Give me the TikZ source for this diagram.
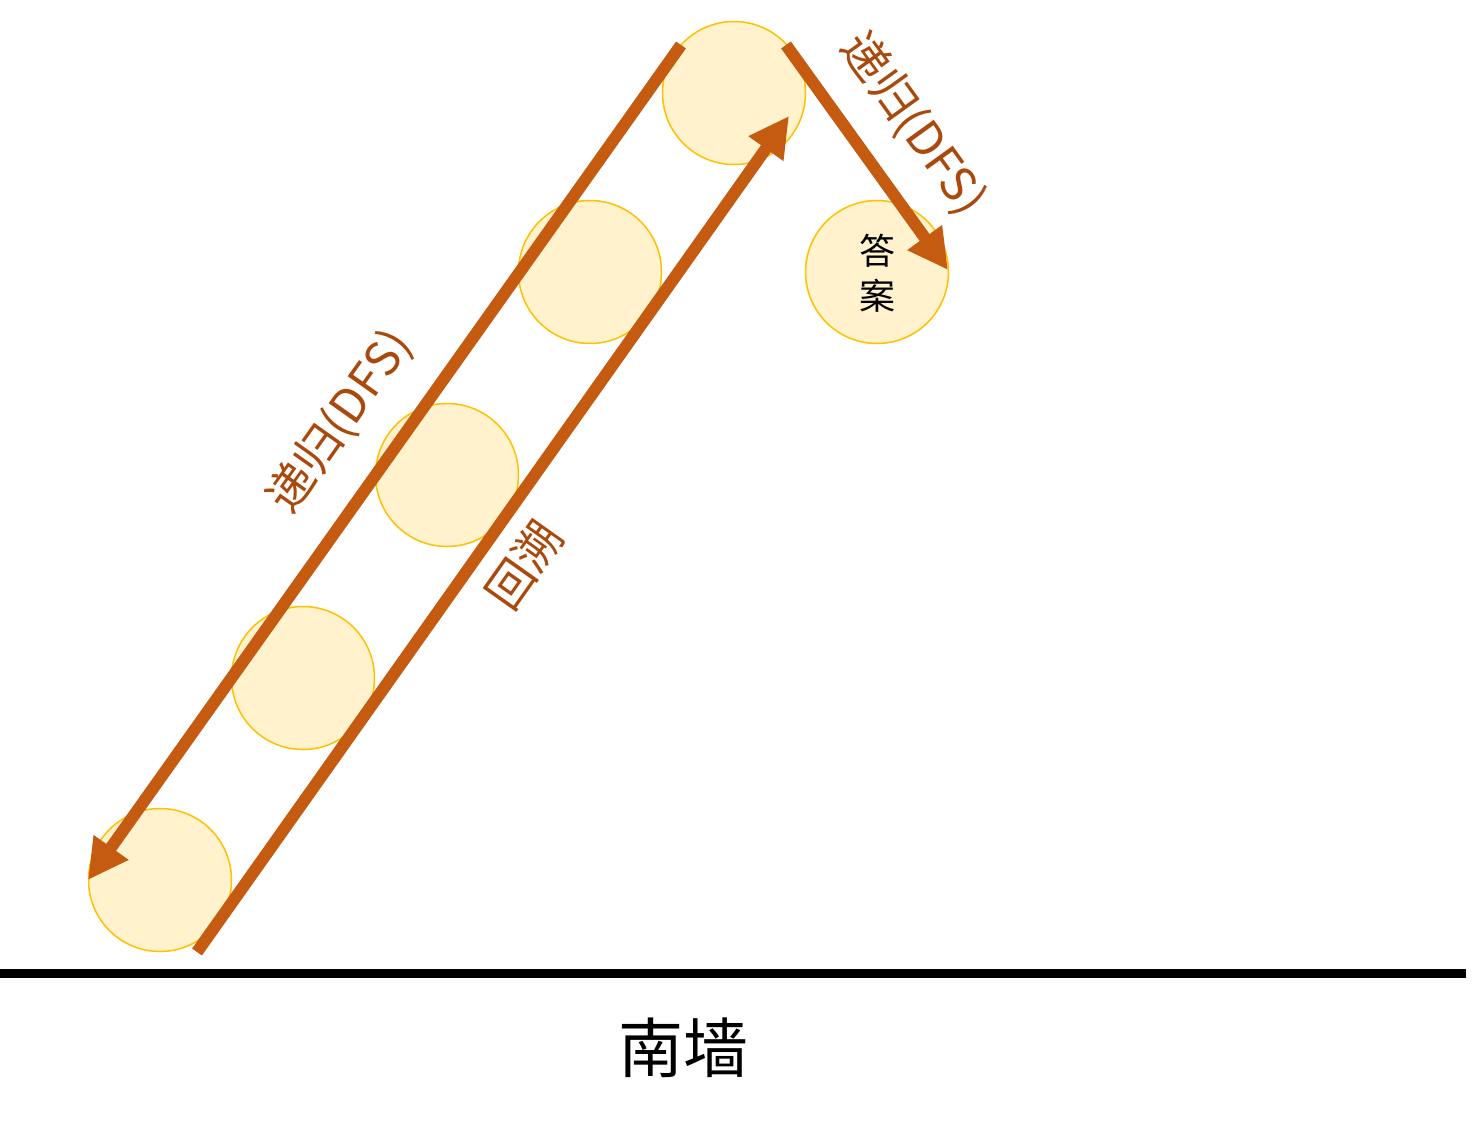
\documentclass[tikz,border=0pt]{standalone}
\usepackage{fontspec}
\setmainfont{Noto Sans CJK SC}
\usetikzlibrary{arrows.meta}
\definecolor{arr}{HTML}{C55A11}
\definecolor{txt}{HTML}{A9490C}
\definecolor{cfill}{HTML}{FFF2CC}
\definecolor{cdraw}{HTML}{FFC000}
\begin{document}
\begin{tikzpicture}[x=1pt,y=-1pt,
 ball/.style={circle,draw=cdraw,fill=cfill,line width=1.5pt,minimum size=143pt,inner sep=0pt},
 arrowline/.style={draw=arr,line width=12pt,-{Triangle[length=40pt,width=40pt]}},
 lbl/.style={text=txt,font=\fontsize{47}{52}\selectfont,inner sep=0pt}]
\useasboundingbox (0,0) rectangle (1474,1127);
\node[ball] (c1) at (734,93) {};
\node[ball] (c2) at (590,272) {};
\node[ball] (c3) at (447,475) {};
\node[ball] (c4) at (303,678) {};
\node[ball] (c5) at (160,880) {};
\node[ball] (ans) at (877,272) {};
\node[font=\fontsize{36}{45}\selectfont, align=center, inner sep=0pt] (anst) at (877,273) {答\\案};
\coordinate (a1s) at (681,45);
\coordinate (a1e) at (88,880);
\coordinate (a2s) at (197,952);
\coordinate (a2e) at (789,116);
\coordinate (a3s) at (786,45);
\coordinate (a3e) at (948,270);
\draw[arrowline] (a1s) -- (a1e);
\draw[arrowline] (a2s) -- (a2e);
\draw[arrowline] (a3s) -- (a3e);
\node[lbl, rotate=54.7] (l1) at (340,422) {递归(DFS)};
\node[lbl, rotate=54.7] (l2) at (524,565) {回溯};
\node[lbl, rotate=-54.2] (l3) at (913,124) {递归(DFS)};
\coordinate (wl) at (0,973);
\coordinate (wr) at (1466,973);
\draw[line width=9pt] (wl) -- (wr);
\node[font=\fontsize{65}{70}\selectfont, inner sep=0pt] (wall) at (683,1048) {南墙};
\end{tikzpicture}
\end{document}
